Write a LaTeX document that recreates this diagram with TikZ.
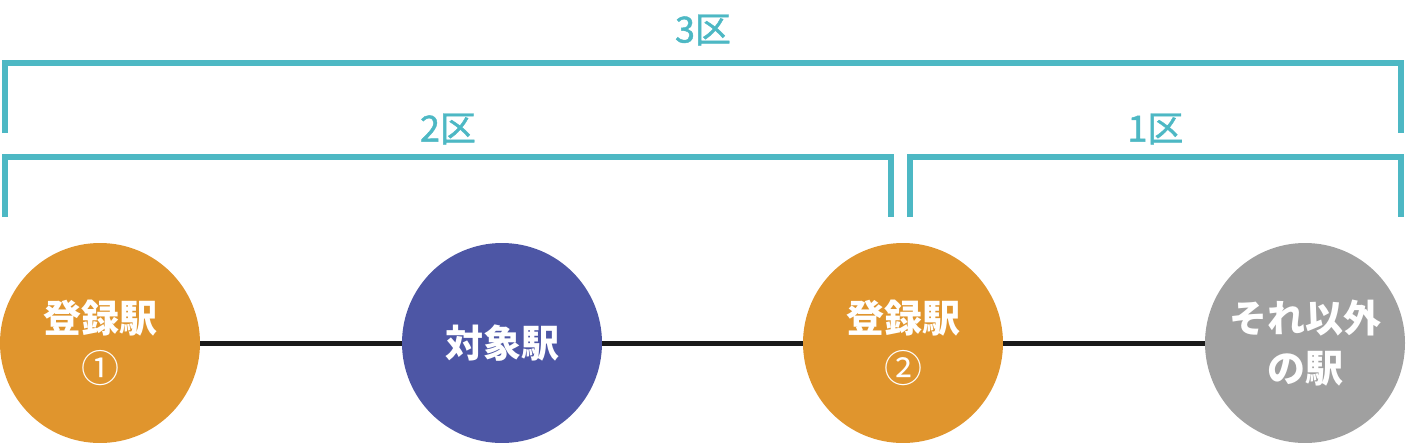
\documentclass[tikz,border=0pt]{standalone}
\usepackage{fontspec}
\newfontfamily\jp{Noto Sans CJK JP}
\newfontfamily\jpmed{Noto Sans CJK JP}[FakeBold=1.2]
\definecolor{kutteal}{HTML}{4DB8C4}
\definecolor{regorange}{HTML}{E0952D}
\definecolor{tgtblue}{HTML}{4D56A5}
\definecolor{othgray}{HTML}{A0A0A0}
\definecolor{railblack}{HTML}{1A1A1A}
\tikzset{
  station/.style={circle,minimum size=200pt,inner sep=0pt,text=white,align=center,
    font=\jp\bfseries\fontsize{38}{50}\selectfont},
  bracket/.style={kutteal,line width=6pt,line cap=butt},
  kulabel/.style={kutteal,font=\jpmed\fontsize{36}{40}\selectfont},
}
\newcommand{\regnum}[1]{{\mdseries #1}}
\begin{document}
\begin{tikzpicture}[x=1pt,y=-1pt]
  \useasboundingbox (0,0) rectangle (1406,442);
  % brackets
  \draw[bracket] (5,133) -- (5,62.5) -- (1401,62.5) -- (1401,133);
  \draw[bracket] (5,217) -- (5,156.5) -- (891,156.5) -- (891,217);
  \draw[bracket] (910,217) -- (910,156.5) -- (1401,156.5) -- (1401,217);
  \node[kulabel] (k3) at (703,30) {3区};
  \node[kulabel] (k2) at (448,129) {2区};
  \node[kulabel] (k1) at (1155.5,129) {1区};
  % stations
  \node[station,fill=regorange] (s1) at (100,343) {登録駅\\\regnum{①}};
  \node[station,fill=tgtblue] (s2) at (502,343) {対象駅};
  \node[station,fill=regorange] (s3) at (903,343) {登録駅\\\regnum{②}};
  \node[station,fill=othgray] (s4) at (1305,343) {それ以外\\の駅};
  \foreach \a/\b in {s1/s2,s2/s3,s3/s4}{
    \draw[railblack,line width=5pt] (\a) -- (\b);}
\end{tikzpicture}
\end{document}
